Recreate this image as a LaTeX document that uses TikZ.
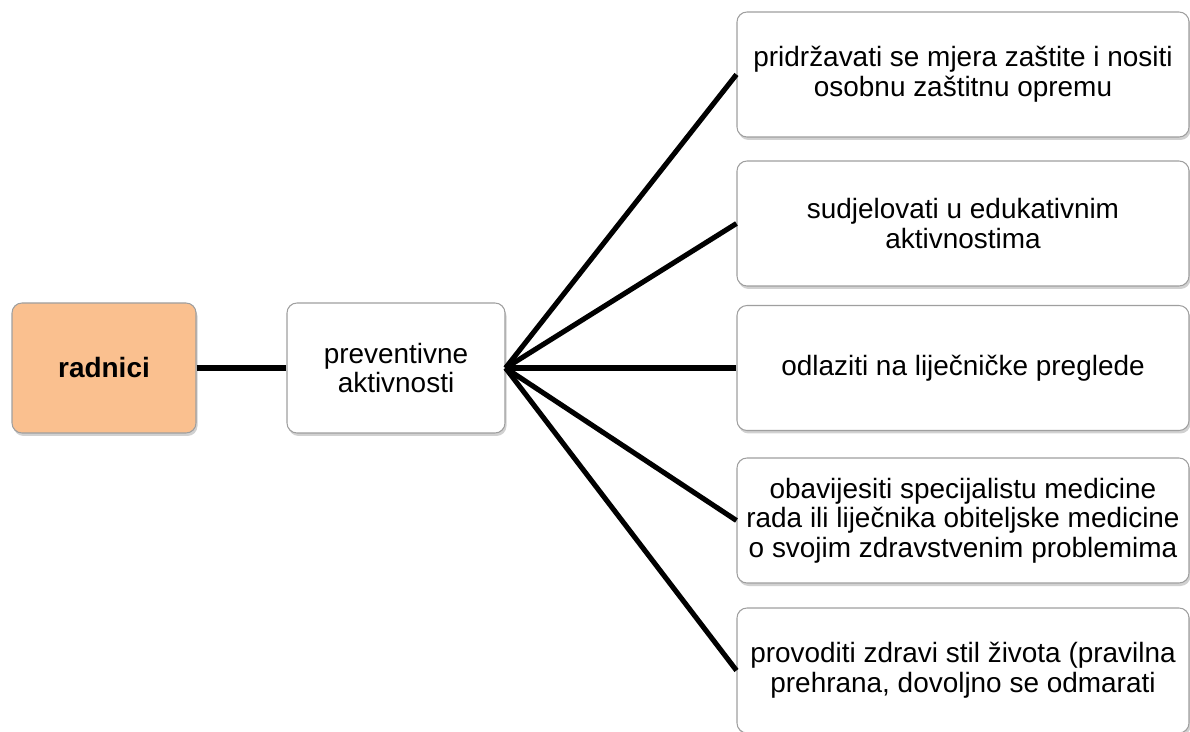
\documentclass[tikz,border=0pt]{standalone}
\usepackage{fontspec}
\setmainfont{Liberation Sans}
\usetikzlibrary{shadows,positioning}
\definecolor{radnicifill}{RGB}{250,192,143}

\tikzset{
    box/.style={draw=gray!75, line width=0.6pt, rounded corners=0.2cm, fill=white,
        align=center, inner sep=2pt,
        font=\fontsize{15.9}{16.9}\selectfont,
        drop shadow={shadow xshift=0.03cm, shadow yshift=-0.06cm, fill=black!40, opacity=0.45}},
    rightbox/.style={box, minimum width=9.04cm, minimum height=2.5cm},
    link/.style={line width=2.9pt, black}
}

\begin{document}
\begin{tikzpicture}
            \useasboundingbox (0, 0) rectangle (23.8, -14.64);

            \node[box, fill=radnicifill, minimum width=3.68cm, minimum height=2.6cm,
                  font=\fontsize{15.9}{16.9}\selectfont\bfseries]
                (radnici) at (2.08, -7.36) {radnici};
            \node[box, minimum width=4.36cm, minimum height=2.6cm]
                (preventivne) at (7.92, -7.36) {preventivne\\aktivnosti};

            \node[rightbox] (zastita)  at (19.26,  -1.49) {pridržavati se mjera zaštite i nositi\\osobnu zaštitnu opremu};
            \node[rightbox] (edukacija) at (19.26, -4.47) {sudjelovati u edukativnim\\aktivnostima};
            \node[rightbox] (pregledi) at (19.26,  -7.36) {odlaziti na liječničke preglede};
            \node[rightbox] (obavijest) at (19.26, -10.41) {obavijesiti specijalistu medicine\\rada ili liječnika obiteljske medicine\\o svojim zdravstvenim problemima};
            \node[rightbox] (stil)     at (19.26, -13.41) {provoditi zdravi stil života (pravilna\\prehrana, dovoljno se odmarati};

            \draw[link] (radnici) -- (preventivne);
            \foreach \target in {zastita, edukacija, pregledi, obavijest, stil}
                \draw[link] (preventivne.east) -- (\target.west);
        \end{tikzpicture}
\end{document}
